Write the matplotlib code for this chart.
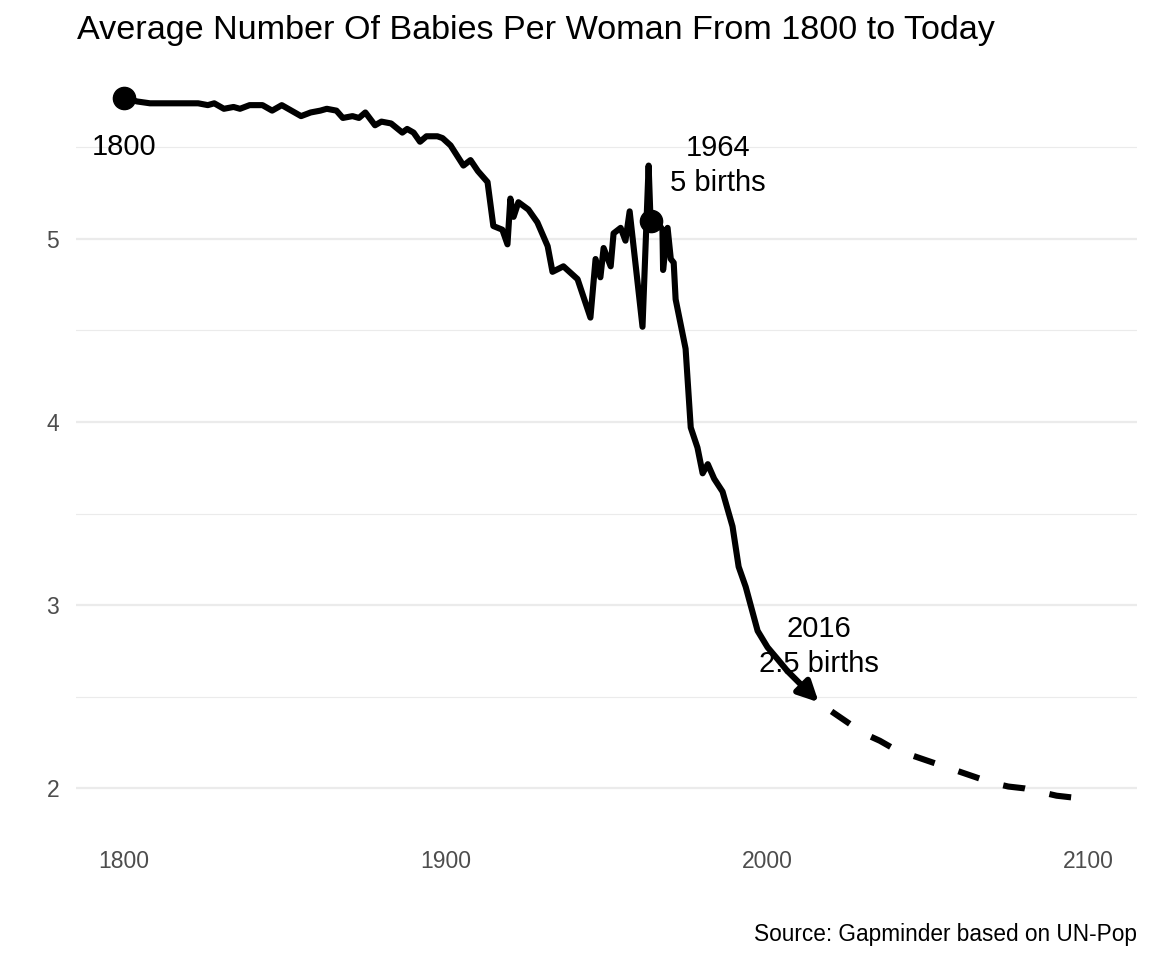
import numpy as np
import matplotlib.pyplot as plt
from matplotlib.ticker import MultipleLocator

plt.rcParams['font.family'] = ['Liberation Sans', 'DejaVu Sans']

years = [1800, 1804, 1808, 1823, 1826, 1828, 1831, 1834, 1836, 1839, 1843, 1846,
         1849, 1852, 1855, 1858, 1861, 1863, 1866, 1868, 1871, 1873, 1875, 1878,
         1880, 1883, 1886.5, 1888, 1890, 1892, 1894, 1897.4, 1899, 1901.5, 1905.5,
         1907.7, 1910, 1913, 1914.8,
         1917.6, 1919.2, 1920.1, 1921.1, 1922.6, 1925.7, 1928.5, 1931.7, 1933.2,
         1936.6, 1941, 1945, 1946.6, 1948.1, 1949.1, 1951.3, 1952.2, 1954.4,
         1955.9, 1957.2, 1961.2, 1963.1, 1963.7, 1965.5, 1967.4, 1967.6, 1969,
         1970, 1970.9, 1971.5, 1974.6, 1976.2, 1978.3, 1979.9, 1981.5, 1983.5,
         1986.1, 1989.2, 1991.1, 1993.3, 1997, 2000.1, 2003, 2006.3]
babies = [5.77, 5.75, 5.74, 5.74, 5.73, 5.74, 5.71, 5.72, 5.71, 5.73, 5.73, 5.70,
          5.73, 5.70, 5.67, 5.69, 5.70, 5.71, 5.70, 5.66, 5.67, 5.66, 5.69, 5.62,
          5.64, 5.63, 5.58, 5.60, 5.58, 5.53, 5.56, 5.56, 5.55, 5.51, 5.40,
          5.43, 5.37, 5.31, 5.07,
          5.05, 4.97, 5.22, 5.12, 5.20, 5.16, 5.09, 4.96, 4.82,
          4.85, 4.78, 4.57, 4.89, 4.79, 4.95, 4.85, 5.03, 5.06,
          4.99, 5.15, 4.52, 5.40, 5.10, 5.10, 5.05, 4.83, 5.06,
          4.89, 4.87, 4.67, 4.40, 3.97, 3.86, 3.72, 3.77, 3.69,
          3.62, 3.43, 3.21, 3.10, 2.86, 2.77, 2.71, 2.64]

# arrow end point (2016)
year_now = 2016
babies_now = 2.47

# UN projection
proj_years = [2016, 2020, 2025, 2030, 2035, 2040, 2045, 2050, 2055, 2060,
              2065, 2070, 2075, 2080, 2085, 2090, 2095, 2100]
proj_babies = [2.47, 2.42, 2.36, 2.30, 2.26, 2.21, 2.18, 2.15, 2.12, 2.09,
               2.06, 2.03, 2.01, 2.00, 1.98, 1.96, 1.95, 1.93]

fig = plt.figure(figsize=(11.52, 9.6), dpi=100)
ax = fig.add_axes([76/1152, 1 - 836/960, (1137-76)/1152, (836-63)/960])

lw = 4.4
ax.plot(years, babies, color='black', lw=lw, solid_joinstyle='round',
        solid_capstyle='round', zorder=3)
ax.annotate('', xy=(year_now, babies_now), xytext=(years[-1], babies[-1]),
            arrowprops=dict(arrowstyle='-|>', color='black', lw=lw,
                            mutation_scale=30, shrinkA=0, shrinkB=0), zorder=3)
ax.plot(proj_years[1:], proj_babies[1:], color='black', lw=lw,
        dashes=(3.6, 4.1), dash_capstyle='butt', zorder=3)

# highlighted points
ax.plot([1800], [5.77], 'o', color='black', ms=16, zorder=4)
ax.plot([1963.7], [5.10], 'o', color='black', ms=16, zorder=4)

ax.text(1800, 5.50, '1800', fontsize=21, ha='center', va='center')
ax.text(1984.6, 5.40, '1964\n5 births', fontsize=21, ha='center', va='center',
        linespacing=1.3)
ax.text(2016, 2.775, '2016\n2.5 births', fontsize=21, ha='center', va='center',
        linespacing=1.3)

ax.set_xlim(1785, 2115)
ax.set_ylim(1.74, 5.96)
ax.set_xticks([1800, 1900, 2000, 2100])
ax.set_yticks([2, 3, 4, 5])
ax.yaxis.set_minor_locator(MultipleLocator(0.5))
ax.grid(axis='y', which='major', color='#ebebeb', lw=1.6)
ax.grid(axis='y', which='minor', color='#ebebeb', lw=0.8)
ax.set_axisbelow(True)
for s in ax.spines.values():
    s.set_visible(False)
ax.tick_params(which='both', length=0, labelsize=16.5, labelcolor='#4d4d4d')
ax.tick_params(axis='x', pad=10)
ax.tick_params(axis='y', pad=12)

fig.text(77/1152, 1 - 30/960, 'Average Number Of Babies Per Woman From 1800 to Today',
         fontsize=24.6, ha='left', va='center')
fig.text(1137/1152, 1 - 934/960, 'Source: Gapminder based on UN-Pop',
         fontsize=16.3, ha='right', va='center')

fig.savefig('out.png', dpi=100, facecolor='white')
